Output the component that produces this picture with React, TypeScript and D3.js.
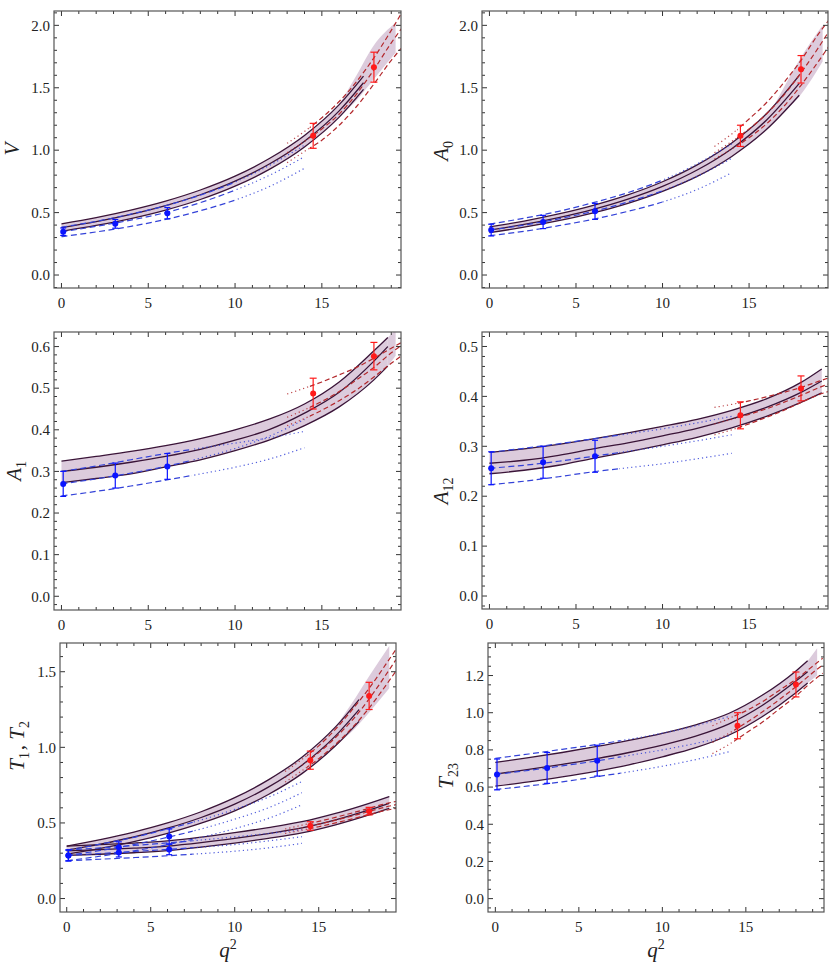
import React from 'react';
import * as d3 from 'd3';

// shared q^2 grids
const qBlue = [0, 2, 4, 6, 8, 10, 12, 14];
const qRed = [13, 14, 15, 16, 17, 18, 19, 19.6];
const qBluePts = [0.1, 3.1, 6.1];
const qRedPts = [14.5, 18.0];

// ---- V ----
const qBandV = [0, 2, 4, 6, 8, 10, 12, 14, 16, 17.4];
const vHi = [0.41, 0.46, 0.52, 0.592, 0.681, 0.792, 0.935, 1.118, 1.365, 1.594];
const vMid = [0.38, 0.428, 0.486, 0.556, 0.643, 0.752, 0.891, 1.072, 1.315, 1.54];
const vLo = [0.35, 0.397, 0.452, 0.52, 0.605, 0.712, 0.848, 1.026, 1.265, 1.487];
const qExtV = [16.0, 17.0, 18.0, 19.25];
const vExtHi = [1.365, 1.6, 1.84, 2.02];
const vExtLo = [1.265, 1.4, 1.57, 1.78];
const vBlueHi = [0.383, 0.43, 0.488, 0.555, 0.64, 0.745, 0.88, 1.04];
const vBlueMid = [0.345, 0.39, 0.44, 0.5, 0.58, 0.68, 0.8, 0.948];
const vBlueLo = [0.307, 0.345, 0.39, 0.445, 0.515, 0.6, 0.71, 0.855];
const vBluePts = [0.347, 0.41, 0.495];
const vBlueErr = [0.03, 0.035, 0.045];
const vRedHi = [1.055, 1.15, 1.26, 1.39, 1.55, 1.74, 1.96, 2.1];
const vRedMid = [0.98, 1.07, 1.17, 1.29, 1.45, 1.645, 1.86, 1.976];
const vRedLo = [0.9, 0.99, 1.08, 1.2, 1.35, 1.53, 1.72, 1.82];
const vRedPts = [1.115, 1.665];
const vRedErr = [0.1, 0.12];

// ---- A0 ----
const qBandA0 = [0, 2, 4, 6, 8, 10, 12, 14, 16, 17.9];
const a0Hi = [0.385, 0.432, 0.489, 0.558, 0.642, 0.747, 0.882, 1.058, 1.292, 1.6];
const a0Mid = [0.36, 0.405, 0.46, 0.526, 0.608, 0.71, 0.841, 1.012, 1.24, 1.535];
const a0Lo = [0.34, 0.383, 0.435, 0.497, 0.574, 0.67, 0.79, 0.95, 1.165, 1.44];
const qExtA0 = [16.0, 17.0, 17.9, 19.25];
const a0ExtHi = [1.24, 1.5, 1.72, 2.0];
const a0ExtLo = [1.165, 1.3, 1.43, 1.71];
const a0BlueHi = [0.408, 0.455, 0.51, 0.58, 0.66, 0.76, 0.89, 1.05];
const a0BlueMid = [0.36, 0.4, 0.45, 0.51, 0.585, 0.675, 0.79, 0.935];
const a0BlueLo = [0.315, 0.35, 0.395, 0.447, 0.51, 0.585, 0.685, 0.82];
const a0BluePts = [0.36, 0.425, 0.51];
const a0BlueErr = [0.047, 0.053, 0.064];
const a0RedHi = [1.03, 1.13, 1.25, 1.38, 1.54, 1.72, 1.93, 2.04];
const a0RedMid = [0.98, 1.07, 1.17, 1.29, 1.44, 1.62, 1.82, 1.95];
const a0RedLo = [0.93, 1.01, 1.1, 1.21, 1.35, 1.52, 1.71, 1.83];
const a0RedPts = [1.115, 1.648];
const a0RedErr = [0.085, 0.11];

// ---- A1 ----
const qBandA1 = [0, 2, 4, 6, 8, 10, 12, 14, 16, 18, 18.8];
const a1Hi = [0.3245, 0.336, 0.348, 0.362, 0.379, 0.4, 0.426, 0.462, 0.515, 0.59, 0.622];
const a1Mid = [0.3, 0.31, 0.322, 0.336, 0.353, 0.375, 0.401, 0.44, 0.49, 0.565, 0.6];
const a1Lo = [0.273, 0.283, 0.294, 0.311, 0.328, 0.35, 0.376, 0.41, 0.455, 0.52, 0.553];
const qExtA1 = [18.8, 19.25];
const a1ExtHi = [0.622, 0.64];
const a1ExtLo = [0.553, 0.578];
const a1BlueHi = [0.3, 0.313, 0.328, 0.343, 0.356, 0.368, 0.381, 0.396];
const a1BlueMid = [0.27, 0.282, 0.296, 0.312, 0.332, 0.355, 0.385, 0.425];
const a1BlueLo = [0.241, 0.252, 0.265, 0.279, 0.294, 0.31, 0.33, 0.357];
const a1BluePts = [0.27, 0.29, 0.312];
const a1BlueErr = [0.03, 0.03, 0.031];
const a1RedHi = [0.486, 0.5, 0.515, 0.532, 0.55, 0.572, 0.596, 0.61];
const a1RedMid = [0.43, 0.448, 0.468, 0.492, 0.52, 0.55, 0.585, 0.603];
const a1RedLo = [0.41, 0.427, 0.447, 0.47, 0.496, 0.527, 0.56, 0.578];
const a1RedPts = [0.487, 0.577];
const a1RedErr = [0.037, 0.033];

// ---- A12 ----
const qBandA12 = [0, 2, 4, 6, 8, 10, 12, 14, 16, 18, 19.2];
const a12Hi = [0.288, 0.295, 0.304, 0.315, 0.327, 0.34, 0.354, 0.372, 0.395, 0.428, 0.455];
const a12Mid = [0.266, 0.272, 0.282, 0.295, 0.307, 0.321, 0.336, 0.355, 0.378, 0.408, 0.431];
const a12Lo = [0.245, 0.252, 0.262, 0.276, 0.289, 0.303, 0.318, 0.337, 0.36, 0.388, 0.407];
const a12BlueHi = [0.288, 0.296, 0.305, 0.315, 0.325, 0.335, 0.347, 0.36];
const a12BlueMid = [0.256, 0.262, 0.27, 0.28, 0.29, 0.3, 0.311, 0.323];
const a12BlueLo = [0.223, 0.23, 0.239, 0.249, 0.257, 0.265, 0.275, 0.286];
const a12BluePts = [0.256, 0.268, 0.28];
const a12BlueErr = [0.033, 0.032, 0.032];
const a12RedHi = [0.378, 0.384, 0.391, 0.399, 0.408, 0.418, 0.43, 0.437];
const a12RedMid = [0.345, 0.354, 0.364, 0.375, 0.388, 0.402, 0.417, 0.425];
const a12RedLo = [0.323, 0.333, 0.345, 0.358, 0.372, 0.388, 0.403, 0.41];
const a12RedPts = [0.362, 0.416];
const a12RedErr = [0.027, 0.025];

// ---- T1, T2 ----
const qBandT1 = [0, 2, 4, 6, 8, 10, 12, 14, 16, 17.4];
const t1Hi = [0.347, 0.39, 0.44, 0.5, 0.574, 0.667, 0.785, 0.934, 1.135, 1.316];
const t1Mid = [0.32, 0.36, 0.407, 0.465, 0.536, 0.624, 0.737, 0.882, 1.076, 1.25];
const t1Lo = [0.294, 0.332, 0.376, 0.431, 0.498, 0.58, 0.688, 0.826, 1.01, 1.172];
const qExtT1 = [16.0, 17.2, 18.0, 19.2];
const t1ExtHi = [1.135, 1.33, 1.47, 1.67];
const t1ExtLo = [1.01, 1.13, 1.23, 1.39];
const qBandT2 = [0, 2, 4, 6, 8, 10, 12, 14, 16, 18, 19.2];
const t2Hi = [0.347, 0.356, 0.367, 0.382, 0.406, 0.436, 0.469, 0.508, 0.563, 0.63, 0.675];
const t2Mid = [0.315, 0.323, 0.333, 0.347, 0.37, 0.398, 0.43, 0.467, 0.52, 0.586, 0.63];
const t2Lo = [0.285, 0.293, 0.303, 0.317, 0.34, 0.367, 0.398, 0.434, 0.487, 0.553, 0.597];
const t1BlueHi = [0.32, 0.36, 0.405, 0.46, 0.52, 0.59, 0.67, 0.774];
const t1BlueMid = [0.285, 0.318, 0.357, 0.405, 0.46, 0.525, 0.6, 0.7];
const t1BlueLo = [0.25, 0.28, 0.315, 0.356, 0.405, 0.462, 0.53, 0.62];
const t2BlueHi = [0.32, 0.335, 0.351, 0.368, 0.387, 0.408, 0.43, 0.455];
const t2BlueMid = [0.285, 0.298, 0.311, 0.325, 0.34, 0.357, 0.381, 0.409];
const t2BlueLo = [0.25, 0.26, 0.271, 0.283, 0.297, 0.313, 0.335, 0.365];
const t1BluePts = [0.285, 0.34, 0.41];
const t1BlueErr = [0.036, 0.035, 0.05];
const t2BluePts = [0.285, 0.305, 0.325];
const t2BlueErr = [0.036, 0.03, 0.035];
const t1RedHi = [0.84, 0.92, 1.01, 1.12, 1.25, 1.39, 1.55, 1.648];
const t1RedMid = [0.8, 0.88, 0.965, 1.065, 1.18, 1.32, 1.48, 1.58];
const t1RedLo = [0.77, 0.845, 0.925, 1.02, 1.13, 1.26, 1.41, 1.505];
const t2RedHi = [0.46, 0.485, 0.51, 0.537, 0.566, 0.597, 0.628, 0.642];
const t2RedMid = [0.445, 0.468, 0.492, 0.518, 0.546, 0.576, 0.606, 0.621];
const t2RedLo = [0.43, 0.452, 0.475, 0.5, 0.527, 0.555, 0.583, 0.597];
const t1RedPts = [0.915, 1.34];
const t1RedErr = [0.06, 0.09];
const t2RedPts = [0.48, 0.578];
const t2RedErr = [0.028, 0.025];

// ---- T23 ----
const qBandT23 = [0, 2, 4, 6, 8, 10, 12, 14, 16, 18, 18.7];
const t23Hi = [0.733, 0.758, 0.786, 0.817, 0.851, 0.889, 0.935, 0.997, 1.095, 1.225, 1.28];
const t23Mid = [0.67, 0.695, 0.722, 0.752, 0.786, 0.826, 0.874, 0.94, 1.04, 1.17, 1.22];
const t23Lo = [0.605, 0.628, 0.655, 0.685, 0.72, 0.763, 0.812, 0.88, 0.98, 1.108, 1.16];
const qExtT23 = [18.0, 18.7, 19.27];
const t23ExtHi = [1.225, 1.28, 1.347];
const t23ExtLo = [1.108, 1.16, 1.2];
const t23BlueHi = [0.754, 0.778, 0.803, 0.828, 0.857, 0.89, 0.93, 0.98];
const t23BlueMid = [0.668, 0.69, 0.714, 0.74, 0.77, 0.8, 0.835, 0.875];
const t23BlueLo = [0.587, 0.606, 0.628, 0.655, 0.682, 0.712, 0.748, 0.79];
const t23BluePts = [0.668, 0.703, 0.742];
const t23BlueErr = [0.083, 0.083, 0.083];
const t23RedHi = [0.93, 0.97, 1.01, 1.06, 1.12, 1.18, 1.25, 1.293];
const t23RedMid = [0.84, 0.89, 0.945, 1.005, 1.07, 1.14, 1.215, 1.257];
const t23RedLo = [0.78, 0.83, 0.89, 0.95, 1.02, 1.09, 1.17, 1.212];
const t23RedPts = [0.93, 1.152];
const t23RedErr = [0.07, 0.067];

const xMajor = [0, 5, 10, 15];

const FILL = '#dccbdc';
const DARK = '#3a1438';
const BLUE = '#3342d8';
const BLUE_PT = '#0a14ff';
const RED = '#b3282c';
const RED_PT = '#ff1a1a';
const FONT = 'Liberation Serif';

const sub = (t: string) => (
  <>
    <tspan fontSize={14} dy={5}>{t}</tspan>
    <tspan dy={-5}>{'\u200a'}</tspan>
  </>
);

const panels = [
  {
    id: 'v', left: 54, top: 11, width: 347, height: 277,
    xDomain: [-0.43, 19.56], yDomain: [-0.104, 2.115], yMajor: 0.5, yMinor: 0.1,
    label: <tspan fontStyle="italic">V</tspan>, labelX: 19, labelY: 149, showQ: false,
    blueSplit: 10,
    bands: [{ q: qBandV, hi: vHi, mid: vMid, lo: vLo, extQ: qExtV, extHi: vExtHi, extLo: vExtLo }],
    blue: [{ hi: vBlueHi, mid: vBlueMid, lo: vBlueLo }],
    red: [{ hi: vRedHi, mid: vRedMid, lo: vRedLo }],
    bluePts: [{ v: vBluePts, err: vBlueErr }],
    redPts: [{ v: vRedPts, err: vRedErr }],
  },
  {
    id: 'a0', left: 482, top: 11, width: 346, height: 277,
    xDomain: [-0.43, 19.56], yDomain: [-0.104, 2.115], yMajor: 0.5, yMinor: 0.1,
    label: <><tspan fontStyle="italic">A</tspan>{sub('0')}</>, labelX: 448, labelY: 150, showQ: false,
    blueSplit: 10,
    bands: [{ q: qBandA0, hi: a0Hi, mid: a0Mid, lo: a0Lo, extQ: qExtA0, extHi: a0ExtHi, extLo: a0ExtLo }],
    blue: [{ hi: a0BlueHi, mid: a0BlueMid, lo: a0BlueLo }],
    red: [{ hi: a0RedHi, mid: a0RedMid, lo: a0RedLo }],
    bluePts: [{ v: a0BluePts, err: a0BlueErr }],
    redPts: [{ v: a0RedPts, err: a0RedErr }],
  },
  {
    id: 'a1', left: 54, top: 332, width: 347, height: 278,
    xDomain: [-0.43, 19.56], yDomain: [-0.033, 0.635], yMajor: 0.1, yMinor: 0.02,
    label: <><tspan fontStyle="italic">A</tspan>{sub('1')}</>, labelX: 21, labelY: 470, showQ: false,
    blueSplit: 7.5,
    bands: [{ q: qBandA1, hi: a1Hi, mid: a1Mid, lo: a1Lo, extQ: qExtA1, extHi: a1ExtHi, extLo: a1ExtLo }],
    blue: [{ hi: a1BlueHi, mid: a1BlueMid, lo: a1BlueLo }],
    red: [{ hi: a1RedHi, mid: a1RedMid, lo: a1RedLo }],
    bluePts: [{ v: a1BluePts, err: a1BlueErr }],
    redPts: [{ v: a1RedPts, err: a1RedErr }],
  },
  {
    id: 'a12', left: 482, top: 332, width: 346, height: 277,
    xDomain: [-0.43, 19.56], yDomain: [-0.026, 0.529], yMajor: 0.1, yMinor: 0.02,
    label: <><tspan fontStyle="italic">A</tspan>{sub('12')}</>, labelX: 448, labelY: 490, showQ: false,
    blueSplit: 7.5,
    bands: [{ q: qBandA12, hi: a12Hi, mid: a12Mid, lo: a12Lo, extQ: [], extHi: [], extLo: [] }],
    blue: [{ hi: a12BlueHi, mid: a12BlueMid, lo: a12BlueLo }],
    red: [{ hi: a12RedHi, mid: a12RedMid, lo: a12RedLo }],
    bluePts: [{ v: a12BluePts, err: a12BlueErr }],
    redPts: [{ v: a12RedPts, err: a12RedErr }],
  },
  {
    id: 't12', left: 60, top: 643, width: 336, height: 269,
    xDomain: [-0.4, 19.6], yDomain: [-0.089, 1.69], yMajor: 0.5, yMinor: 0.1,
    label: <><tspan fontStyle="italic">T</tspan>{sub('1')}<tspan>{', '}</tspan><tspan fontStyle="italic">T</tspan>{sub('2')}</>,
    labelX: 24, labelY: 745, showQ: true,
    blueSplit: 7.5,
    bands: [
      { q: qBandT1, hi: t1Hi, mid: t1Mid, lo: t1Lo, extQ: qExtT1, extHi: t1ExtHi, extLo: t1ExtLo },
      { q: qBandT2, hi: t2Hi, mid: t2Mid, lo: t2Lo, extQ: [], extHi: [], extLo: [] },
    ],
    blue: [{ hi: t1BlueHi, mid: t1BlueMid, lo: t1BlueLo }, { hi: t2BlueHi, mid: t2BlueMid, lo: t2BlueLo }],
    red: [{ hi: t1RedHi, mid: t1RedMid, lo: t1RedLo }, { hi: t2RedHi, mid: t2RedMid, lo: t2RedLo }],
    bluePts: [{ v: t1BluePts, err: t1BlueErr }, { v: t2BluePts, err: t2BlueErr }],
    redPts: [{ v: t1RedPts, err: t1RedErr }, { v: t2RedPts, err: t2RedErr }],
  },
  {
    id: 't23', left: 488, top: 643, width: 336, height: 269,
    xDomain: [-0.44, 19.68], yDomain: [-0.072, 1.375], yMajor: 0.2, yMinor: 0.05,
    label: <><tspan fontStyle="italic">T</tspan>{sub('23')}</>, labelX: 453, labelY: 775, showQ: true,
    blueSplit: 7.5,
    bands: [{ q: qBandT23, hi: t23Hi, mid: t23Mid, lo: t23Lo, extQ: qExtT23, extHi: t23ExtHi, extLo: t23ExtLo }],
    blue: [{ hi: t23BlueHi, mid: t23BlueMid, lo: t23BlueLo }],
    red: [{ hi: t23RedHi, mid: t23RedMid, lo: t23RedLo }],
    bluePts: [{ v: t23BluePts, err: t23BlueErr }],
    redPts: [{ v: t23RedPts, err: t23RedErr }],
  },
];

const isMult = (v: number, step: number) => Math.abs(v / step - Math.round(v / step)) < 1e-6;

function Panel({ p }: { p: any }) {
  const x = d3.scaleLinear().domain(p.xDomain).range([p.left, p.left + p.width]);
  const y = d3.scaleLinear().domain(p.yDomain).range([p.top + p.height, p.top]);
  const right = p.left + p.width;
  const bottom = p.top + p.height;

  const line = (qs: number[], vs: number[]) =>
    d3.line<number>().x((_, i) => x(qs[i])).y((d) => y(d)).curve(d3.curveMonotoneX)(vs) || '';
  const area = (qs: number[], hi: number[], lo: number[]) =>
    d3.area<number>().x((_, i) => x(qs[i])).y0((_, i) => y(lo[i])).y1((d) => y(d)).curve(d3.curveMonotoneX)(hi) || '';

  const yMajors = d3.range(0, p.yDomain[1] + 1e-9, p.yMajor).filter((v) => v >= p.yDomain[0]);
  const yMinors = d3
    .range(Math.ceil(p.yDomain[0] / p.yMinor) * p.yMinor, p.yDomain[1], p.yMinor)
    .filter((v) => !isMult(v, p.yMajor));
  const xMinors = d3.range(0, 20).filter((v) => v % 5 !== 0 && v <= p.xDomain[1]);
  const fmt = d3.format('.1f');
  const redSplit = 14.3;
  const cid = (s: string) => `${p.id}-${s}`;

  return (
    <g>
      <defs>
        <clipPath id={cid('frame')}>
          <rect x={p.left} y={p.top} width={p.width} height={p.height} />
        </clipPath>
        <clipPath id={cid('bdash')}>
          <rect x={p.left} y={p.top} width={x(p.blueSplit) - p.left} height={p.height} />
        </clipPath>
        <clipPath id={cid('bdot')}>
          <rect x={x(p.blueSplit)} y={p.top} width={right - x(p.blueSplit)} height={p.height} />
        </clipPath>
        <clipPath id={cid('rdot')}>
          <rect x={p.left} y={p.top} width={x(redSplit) - p.left} height={p.height} />
        </clipPath>
        <clipPath id={cid('rdash')}>
          <rect x={x(redSplit)} y={p.top} width={right - x(redSplit)} height={p.height} />
        </clipPath>
      </defs>

      <g clipPath={`url(#${cid('frame')})`}>
        {p.bands.map((b: any, i: number) => (
          <g key={'f' + i}>
            {b.extQ.length > 0 && <path d={area(b.extQ, b.extHi, b.extLo)} fill={FILL} />}
            <path d={area(b.q, b.hi, b.lo)} fill={FILL} />
          </g>
        ))}
        {p.bands.map((b: any, i: number) => (
          <g key={'l' + i} fill="none" stroke={DARK} strokeWidth={1.3}>
            <path d={line(b.q, b.hi)} />
            <path d={line(b.q, b.mid)} />
            <path d={line(b.q, b.lo)} />
          </g>
        ))}
        {p.blue.map((c: any, i: number) => (
          <g key={'b' + i} fill="none" stroke={BLUE} strokeWidth={1.2}>
            <g clipPath={`url(#${cid('bdash')})`} strokeDasharray="6,3.5">
              <path d={line(qBlue, c.hi)} />
              <path d={line(qBlue, c.mid)} />
              <path d={line(qBlue, c.lo)} />
            </g>
            <g clipPath={`url(#${cid('bdot')})`} strokeDasharray="1.2,3" opacity={0.85}>
              <path d={line(qBlue, c.hi)} />
              <path d={line(qBlue, c.mid)} />
              <path d={line(qBlue, c.lo)} />
            </g>
          </g>
        ))}
        {p.red.map((c: any, i: number) => (
          <g key={'r' + i} fill="none" stroke={RED} strokeWidth={1.2}>
            <g clipPath={`url(#${cid('rdash')})`} strokeDasharray="5,3">
              <path d={line(qRed, c.hi)} />
              <path d={line(qRed, c.mid)} />
              <path d={line(qRed, c.lo)} />
            </g>
            <g clipPath={`url(#${cid('rdot')})`} strokeDasharray="1.2,3" opacity={0.85}>
              <path d={line(qRed, c.hi)} />
              <path d={line(qRed, c.mid)} />
              <path d={line(qRed, c.lo)} />
            </g>
          </g>
        ))}
        {p.bluePts.map((s: any, i: number) => (
          <g key={'bp' + i}>
            {s.v.map((v: number, j: number) => {
              const cx = x(qBluePts[j]);
              const y1 = y(v + s.err[j]);
              const y2 = y(v - s.err[j]);
              return (
                <g key={j} stroke={BLUE_PT} strokeWidth={1.2}>
                  <line x1={cx} x2={cx} y1={y1} y2={y2} />
                  <line x1={cx - 3} x2={cx + 3} y1={y1} y2={y1} />
                  <line x1={cx - 3} x2={cx + 3} y1={y2} y2={y2} />
                  <circle cx={cx} cy={y(v)} r={3} fill={BLUE_PT} stroke="none" />
                </g>
              );
            })}
          </g>
        ))}
        {p.redPts.map((s: any, i: number) => (
          <g key={'rp' + i}>
            {s.v.map((v: number, j: number) => {
              const cx = x(qRedPts[j]);
              const y1 = y(v + s.err[j]);
              const y2 = y(v - s.err[j]);
              return (
                <g key={j} stroke={RED_PT} strokeWidth={1.2}>
                  <line x1={cx} x2={cx} y1={y1} y2={y2} />
                  <line x1={cx - 3.5} x2={cx + 3.5} y1={y1} y2={y1} />
                  <line x1={cx - 3.5} x2={cx + 3.5} y1={y2} y2={y2} />
                  <circle cx={cx} cy={y(v)} r={3} fill={RED_PT} stroke="none" />
                </g>
              );
            })}
          </g>
        ))}
      </g>

      {/* ticks */}
      <g stroke="#333" strokeWidth={1}>
        {xMajor.map((t) => (
          <g key={'xM' + t}>
            <line x1={x(t)} x2={x(t)} y1={bottom} y2={bottom - 5} />
            <line x1={x(t)} x2={x(t)} y1={p.top} y2={p.top + 5} />
          </g>
        ))}
        {xMinors.map((t: number) => (
          <g key={'xm' + t}>
            <line x1={x(t)} x2={x(t)} y1={bottom} y2={bottom - 3} />
            <line x1={x(t)} x2={x(t)} y1={p.top} y2={p.top + 3} />
          </g>
        ))}
        {yMajors.map((t: number) => (
          <g key={'yM' + t}>
            <line x1={p.left} x2={p.left + 5} y1={y(t)} y2={y(t)} />
            <line x1={right} x2={right - 5} y1={y(t)} y2={y(t)} />
          </g>
        ))}
        {yMinors.map((t: number) => (
          <g key={'ym' + t}>
            <line x1={p.left} x2={p.left + 3} y1={y(t)} y2={y(t)} />
            <line x1={right} x2={right - 3} y1={y(t)} y2={y(t)} />
          </g>
        ))}
      </g>
      <rect x={p.left} y={p.top} width={p.width} height={p.height} fill="none" stroke="#555" strokeWidth={1.2} />

      <g fontFamily={FONT} fontSize={15} fill="#222">
        {xMajor.map((t) => (
          <text key={'xl' + t} x={x(t)} y={bottom + 20} textAnchor="middle">{t}</text>
        ))}
        {yMajors.map((t: number) => (
          <text key={'yl' + t} x={p.left - 4} y={y(t)} dy="0.35em" textAnchor="end">{fmt(t)}</text>
        ))}
      </g>
      <text
        fontFamily={FONT}
        fontSize={21}
        fill="#222"
        textAnchor="middle"
        transform={`translate(${p.labelX},${p.labelY}) rotate(-90)`}
      >
        {p.label}
      </text>
      {p.showQ && (
        <text fontFamily={FONT} fontSize={21} fill="#222" textAnchor="middle" x={p.left + p.width / 2} y={957}>
          <tspan fontStyle="italic">q</tspan>
          <tspan fontSize={14} dy={-8}>2</tspan>
        </text>
      )}
    </g>
  );
}

export default function App() {
  return (
    <svg
      width={830}
      height={965}
      viewBox="0 0 830 965"
      style={{ position: 'absolute', left: 0, top: 0, background: '#fff' }}
    >
      <rect width={830} height={965} fill="#fff" />
      {panels.map((p) => (
        <Panel key={p.id} p={p} />
      ))}
    </svg>
  );
}
